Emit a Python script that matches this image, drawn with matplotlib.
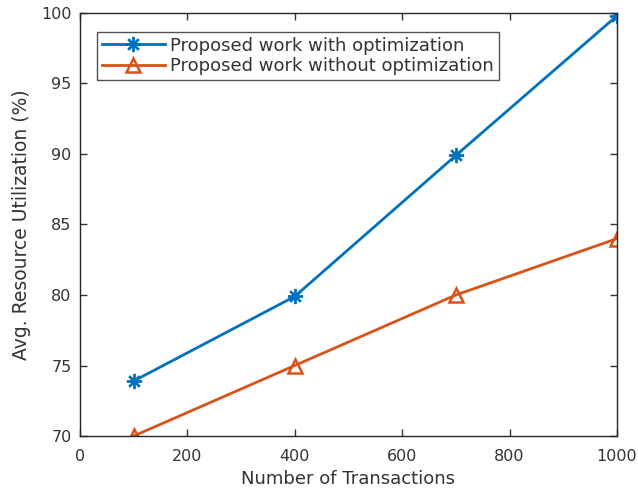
import matplotlib
matplotlib.use('Agg')
import matplotlib.pyplot as plt
from matplotlib.path import Path

# transactions vs avg resource utilization
transactions = [100, 400, 700, 1000]
util_with_opt = [73.9, 79.9, 89.9, 99.8]
util_without_opt = [70.0, 75.0, 80.0, 84.0]

plt.rcParams['font.family'] = 'DejaVu Sans'
txt_col = '#333333'

# asterisk marker like matlab's '*' (plus + cross)
ast = Path([(-1, 0), (1, 0), (0, -1), (0, 1),
            (-0.7, -0.7), (0.7, 0.7), (-0.7, 0.7), (0.7, -0.7)],
           [Path.MOVETO, Path.LINETO] * 4)

fig = plt.figure(figsize=(6.38, 4.92), dpi=100)
ax = fig.add_axes([0.1254, 0.1138, 0.8416, 0.8598])

ax.plot(transactions, util_with_opt, '-', marker=ast, color='#0072BD', lw=2,
        ms=11, mew=2, label='Proposed work with optimization')
ax.plot(transactions, util_without_opt, '-^', color='#D95319', lw=2, ms=10,
        mfc='none', mew=1.8, label='Proposed work without optimization')

ax.set_xlim(0, 1000)
ax.set_ylim(70, 100)
ax.set_xticks(range(0, 1001, 200))
ax.set_yticks(range(70, 101, 5))
ax.tick_params(direction='in', top=True, right=True, length=5, width=1,
               labelsize=11.5, colors=txt_col)
ax.tick_params(axis='x', pad=9)
ax.tick_params(axis='y', pad=6)
for s in ax.spines.values():
    s.set_color('#262626')
    s.set_linewidth(1)

ax.set_xlabel('Number of Transactions', fontsize=13, color=txt_col, labelpad=5)
ax.set_ylabel('Avg. Resource Utilization (%)', fontsize=13.5, color=txt_col, labelpad=7)

leg = ax.legend(loc='upper left', bbox_to_anchor=(0.032, 0.955), fontsize=13,
                frameon=True, fancybox=False, edgecolor='#262626',
                borderpad=0.25, handlelength=3.5, handletextpad=0.3,
                labelspacing=0.15, borderaxespad=0)
leg.get_frame().set_linewidth(1)
for t in leg.get_texts():
    t.set_color(txt_col)

fig.savefig('out.png', dpi=100)
